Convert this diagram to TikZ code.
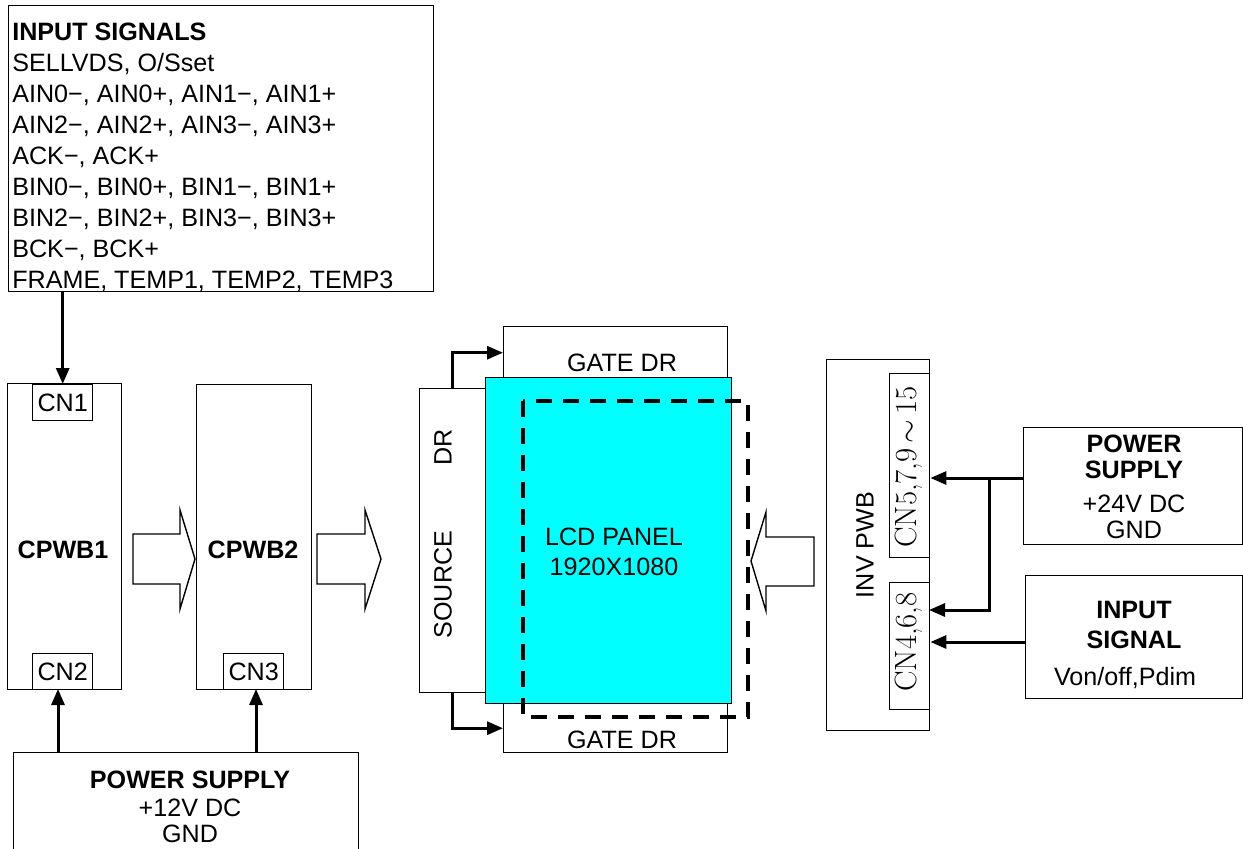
\documentclass[tikz,border=0pt]{standalone}
\usepackage{fontspec}
\setmainfont{Liberation Sans}
\newfontfamily\lmfont{Latin Modern Roman}
\usetikzlibrary{arrows.meta, positioning, calc}

\definecolor{panelcyan}{RGB}{0,255,255}
\newcommand{\px}{0.02cm}

\begin{document}
\begin{tikzpicture}[x=0.02cm, y=-0.02cm, font=\fontsize{14.3}{17}\selectfont,
    box/.style={draw, line width=0.8pt, inner sep=0pt, anchor=north west},
    sig/.style={line width=0.06cm, -{Triangle[length=0.32cm, width=0.26cm]}},
    bigarrow/.style={draw, line width=0.8pt, fill=white, line join=miter},
    boldlbl/.style={font=\fontsize{14.3}{17}\selectfont\bfseries},
    vtext/.style={rotate=90, inner sep=0pt}]
    \useasboundingbox (0,0) rectangle (1243,848);
    \clip (0,0) rectangle (1243,848);

    % Input signals
    \node[box, minimum width=425*\px, minimum height=286*\px] (inbox) at (8,5) {};
    \node[anchor=north west, align=left, inner sep=0pt,
          font=\fontsize{14.3}{17.6}\selectfont] (inlist) at (12,23)
        {\textbf{INPUT SIGNALS}\\
         SELLVDS, O/Sset\\
         AIN0−, AIN0+, AIN1−, AIN1+\\
         AIN2−, AIN2+, AIN3−, AIN3+\\
         ACK−, ACK+\\
         BIN0−, BIN0+, BIN1−, BIN1+\\
         BIN2−, BIN2+, BIN3−, BIN3+\\
         BCK−, BCK+\\
         FRAME, TEMP1, TEMP2, TEMP3};

    % Control boards
    \node[box, minimum width=114*\px, minimum height=306*\px] (cpwb1) at (7,383) {};
    \node[box, minimum width=115*\px, minimum height=305*\px] (cpwb2) at (196,384) {};
    \node[boldlbl] (cpwb1lbl) at (63,550) {CPWB1};
    \node[boldlbl] (cpwb2lbl) at (253,550) {CPWB2};
    \node[box, minimum width=60*\px, minimum height=36*\px] (cn1) at (32,384) {CN1};
    \node[box, minimum width=60*\px, minimum height=36*\px] (cn2) at (32,653) {CN2};
    \node[box, minimum width=60*\px, minimum height=36*\px] (cn3) at (223,653) {CN3};

    % Block arrows
    \draw[bigarrow] (133,534) -- (180,534) -- (180,510) -- (195,559)
        -- (180,609) -- (180,584) -- (133,584) -- cycle;
    \draw[bigarrow] (317,534) -- (365,534) -- (365,510) -- (381,559)
        -- (365,609) -- (365,584) -- (317,584) -- cycle;

    % Power supply 12V
    \node[box, minimum width=345*\px, minimum height=130*\px] (ps12) at (13,752) {};
    \node[align=center, inner sep=0pt, font=\fontsize{14.3}{15}\selectfont] (ps12lbl) at (190,807)
        {\textbf{POWER SUPPLY}\\[1pt] +12V DC\\[0pt] GND};

    \draw[sig] (cn1.north |- inbox.south) -- (cn1.north);
    \draw[sig] (58,752) -- (58,689);
    \draw[sig] (256,752) -- (256,689);

    % LCD panel and drivers
    \node[box, minimum width=224*\px, minimum height=52*\px] (gatet) at (503,326) {};
    \node[box, minimum width=224*\px, minimum height=49*\px] (gateb) at (503,703) {};
    \node[box, minimum width=66*\px, minimum height=304*\px] (src) at (419,388) {};
    \node[box, fill=panelcyan, minimum width=246*\px, minimum height=326*\px] (lcd) at (485,377) {};
    \node (gatetlbl) at (622,363) {GATE DR};
    \node (gateblbl) at (622,740) {GATE DR};
    \node[vtext] (srclbl) at (443,534) {SOURCE\hspace{1.3cm}DR};
    \node[align=center, inner sep=0pt, font=\fontsize{14.3}{15}\selectfont] (lcdlbl) at (614,552)
        {LCD PANEL\\[2pt] 1920X1080};
    \draw[line width=0.08cm, dash pattern=on 0.32cm off 0.22cm] (523,401) rectangle (748,717);

    \draw[sig] (src.north) |- (gatet.west);
    \draw[sig] (src.south) |- (gateb.west);

    % Backlight arrow
    \draw[bigarrow] (814,537) -- (766,537) -- (766,512) -- (751,561)
        -- (766,611) -- (766,586) -- (814,586) -- cycle;

    % Inverter
    \node[box, minimum width=103*\px, minimum height=371*\px] (inv) at (826,359) {};
    \node[box, minimum width=40*\px, minimum height=184*\px] (cn5) at (889,373) {};
    \node[box, minimum width=40*\px, minimum height=127*\px] (cn4) at (889,582) {};
    \node[vtext] (invlbl) at (865,545) {INV PWB};
    \node[vtext, font=\fontsize{17.5}{17.5}\selectfont\lmfont] (cn5lbl) at (909,467)
        {CN5,7,9$\,\mathord{\sim}\,$15};
    \node[vtext, font=\fontsize{17.5}{17.5}\selectfont\lmfont] (cn4lbl) at (909,642) {CN4,6,8};

    % Power supply 24V and input signal
    \node[box, minimum width=219*\px, minimum height=117*\px] (ps24) at (1023,427) {};
    \node[align=center, inner sep=0pt, font=\fontsize{14.3}{15}\selectfont] (ps24lbl) at (1134,487)
        {\textbf{POWER}\\ \textbf{SUPPLY}\\[4pt] +24V DC\\ GND};
    \node[box, minimum width=217*\px, minimum height=123*\px] (insig) at (1025,575) {};
    \node[align=center, inner sep=0pt, font=\fontsize{14.3}{15}\selectfont] (insiglbl) at (1134,625)
        {\textbf{INPUT}\\[2pt] \textbf{SIGNAL}};
    \node (vonlbl) at (1125,678) {Von/off,Pdim};

    \coordinate (jn) at (989,478);
    \draw[sig] (ps24.west |- jn) -- (cn5.east |- jn);
    \draw[sig] (jn) |- (929,610);
    \draw[sig] (insig.west |- 0,642) -- (cn4.east |- 0,642);
\end{tikzpicture}
\end{document}
